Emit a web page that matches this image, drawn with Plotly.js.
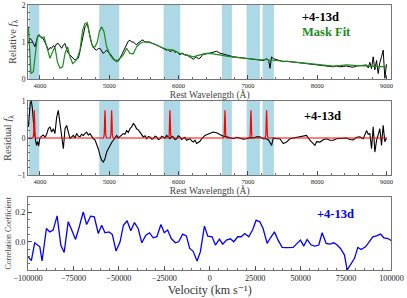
<!DOCTYPE html>
<html><head><meta charset="utf-8">
<script src="https://cdn.plot.ly/plotly-3.0.1.min.js"></script>
<style>html,body{margin:0;padding:0;background:#fff}#chart{width:407px;height:298px}</style>
</head><body><div id="chart"></div>
<script>
// Observed spectrum (relative flux)
const specWave = [3832,3856,3880,3904,3928,3952,3976,4000,4024,4048,4072,4096,4120,4144,4168,4192,4216,4240,4264,4290,4313,4337,4361,4385,4409,4433,4457,4481,4505,4529,4553,4577,4601,4625,4649,4665,4683,4700,4721,4745,4769,4793,4817,4841,4865,4890,4914,4938,4962,4986,5010,5034,5058,5082,5106,5130,5154,5178,5202,5226,5250,5274,5298,5322,5346,5370,5394,5418,5442,5466,5490,5515,5539,5563,5587,5611,5635,5660,5683,5707,5731,5755,5779,5803,5827,5851,5875,5899,5923,5947,5971,5995,6019,6043,6067,6091,6115,6140,6164,6188,6212,6236,6260,6284,6308,6332,6356,6380,6404,6452,6500,6548,6596,6644,6693,6741,6789,6837,6885,6933,6981,7029,7077,7125,7173,7221,7270,7300,7318,7342,7366,7414,7462,7510,7558,7606,7654,7702,7750,7798,7846,7894,7943,7991,8039,8087,8135,8183,8231,8279,8327,8375,8423,8471,8519,8568,8616,8664,8712,8736,8760,8784,8808,8832,8856,8880,8904,8928,8952,8976,9000];
const specFlux = [0.96,1.10,1.05,0.95,0.87,1.05,1.19,1.15,1.14,1.08,1.00,0.90,0.78,0.85,0.83,0.90,0.87,0.95,0.96,0.88,0.83,0.92,0.96,0.80,0.69,0.65,0.60,0.55,0.51,0.54,0.56,0.75,0.96,1.20,1.41,1.45,1.50,1.35,1.14,0.95,0.87,0.80,0.78,0.82,0.83,0.75,0.69,0.74,0.78,0.72,0.69,0.62,0.56,0.50,0.51,0.48,0.56,0.65,0.78,0.85,0.96,1.02,1.05,1.00,1.00,0.95,0.92,0.98,1.00,1.05,1.05,1.00,1.00,1.02,1.00,0.97,0.96,0.93,0.92,0.90,0.87,0.84,0.83,0.80,0.78,0.80,0.74,0.76,0.78,0.72,0.74,0.70,0.65,0.70,0.69,0.64,0.65,0.62,0.60,0.57,0.53,0.58,0.59,0.55,0.56,0.64,0.68,0.66,0.69,0.70,0.72,0.75,0.70,0.67,0.65,0.62,0.60,0.59,0.58,0.56,0.55,0.55,0.54,0.53,0.52,0.50,0.55,0.50,0.29,0.60,0.55,0.52,0.50,0.47,0.48,0.47,0.46,0.45,0.44,0.42,0.40,0.41,0.38,0.37,0.36,0.36,0.35,0.34,0.33,0.35,0.33,0.34,0.35,0.33,0.32,0.35,0.36,0.37,0.38,0.30,0.45,0.28,0.60,0.25,0.50,0.15,0.45,0.60,0.78,0.02,0.40];
// Mask fit (model)
const fitWave = [3832,3846,3870,3904,3928,3962,3990,4024,4058,4096,4144,4183,4216,4250,4288,4327,4361,4399,4433,4471,4505,4539,4577,4615,4649,4683,4721,4760,4793,4827,4856,4889,4923,4962,5010,5058,5106,5154,5202,5250,5298,5346,5394,5442,5490,5539,5635,5731,5827,5923,6019,6115,6212,6308,6404,6500,6596,6693,6789,6885,6981,7077,7173,7270,7366,7462,7558,7654,7750,7846,7943,8039,8135,8231,8327,8423,8519,8616,8712,8808,8904,9000];
const fitFlux = [1.41,0.80,0.15,0.20,0.60,1.14,1.19,1.10,1.14,0.87,0.56,0.74,0.87,0.47,0.29,0.33,0.69,0.87,0.60,0.42,0.47,0.56,0.78,1.32,1.50,1.52,1.14,0.87,0.87,1.00,1.28,1.41,1.28,0.87,0.65,0.53,0.47,0.56,0.65,0.83,0.69,0.68,0.87,0.96,1.00,1.00,0.96,0.87,0.80,0.78,0.69,0.65,0.60,0.65,0.69,0.68,0.66,0.62,0.59,0.57,0.55,0.53,0.52,0.52,0.51,0.50,0.49,0.46,0.44,0.42,0.40,0.38,0.37,0.35,0.36,0.38,0.37,0.36,0.35,0.34,0.33,0.33];
// Residual
const residWave = [3832,3845,3860,3875,3890,3905,3920,3935,3950,3965,3980,4000,4024,4048,4072,4096,4120,4144,4168,4192,4216,4240,4264,4288,4313,4337,4361,4385,4409,4433,4457,4481,4505,4529,4553,4577,4601,4625,4649,4673,4697,4721,4745,4769,4793,4817,4841,4865,4890,4914,4938,4962,4986,5010,5034,5058,5082,5106,5130,5154,5178,5202,5226,5250,5274,5298,5322,5346,5370,5394,5418,5442,5466,5490,5515,5539,5563,5587,5611,5635,5660,5683,5707,5731,5755,5779,5803,5827,5851,5875,5899,5923,5947,5971,5995,6019,6043,6067,6091,6115,6140,6164,6188,6212,6236,6260,6284,6308,6332,6356,6380,6404,6452,6500,6548,6596,6644,6693,6741,6789,6837,6885,6933,6981,7029,7077,7125,7173,7221,7270,7300,7342,7366,7414,7462,7510,7558,7606,7654,7702,7750,7798,7846,7894,7967,7991,8039,8087,8135,8183,8231,8279,8327,8375,8423,8471,8519,8568,8616,8664,8712,8736,8760,8784,8808,8832,8856,8904,8928,8952,8976,9000];
const residFlux = [0.30,0.75,0.95,1.00,0.80,0.45,0.10,-0.05,-0.20,-0.10,-0.22,0.00,0.05,0.08,0.02,0.10,0.25,0.30,0.16,0.25,0.12,0.55,0.75,0.43,0.03,-0.29,0.25,0.34,0.16,-0.02,0.03,0.07,0.00,0.12,0.05,0.03,0.10,0.07,0.12,0.16,0.08,0.12,0.05,-0.02,-0.05,-0.15,-0.29,-0.47,-0.60,-0.65,-0.56,-0.38,-0.28,-0.20,-0.12,-0.06,0.02,0.07,0.00,0.03,0.08,0.12,0.10,0.20,0.15,0.25,0.30,0.39,0.34,0.25,0.22,0.16,0.08,0.03,0.06,-0.02,0.04,0.03,-0.03,-0.02,0.05,0.03,-0.04,-0.02,0.05,0.03,0.00,0.07,0.02,-0.02,0.05,0.03,-0.04,-0.02,0.06,0.03,-0.04,-0.02,0.02,-0.06,-0.03,-0.02,-0.08,-0.11,-0.06,-0.15,-0.12,-0.09,-0.02,0.03,0.07,0.09,0.12,0.16,0.14,0.09,0.05,0.03,0.00,-0.02,0.02,0.00,-0.03,-0.02,0.01,0.00,0.03,0.03,-0.02,-0.02,-0.06,-0.20,0.00,-0.02,-0.02,-0.15,-0.11,-0.02,0.00,0.00,0.03,0.06,0.07,-0.06,-0.20,-0.10,-0.11,-0.05,-0.02,-0.06,-0.06,-0.02,-0.02,0.00,0.00,-0.04,-0.05,0.02,0.03,-0.02,0.20,0.10,0.12,-0.29,0.30,-0.38,-0.07,0.25,-0.20,0.34,-0.10,0.00];
// Residual line model (red)
const lineWave = [3830,3898,3908,3913,3918,3923,3928,3938,4918,4928,4933,4938,4943,4948,4958,5014,5024,5029,5034,5039,5044,5054,5855,5865,5870,5875,5880,5885,5895,6649,6659,6664,6669,6674,6679,6689,7024,7034,7039,7044,7049,7054,7064,7250,7260,7265,7270,7275,7280,7290,9005];
const lineFlux = [0,0,0.1,0.5,0.75,0.5,0.1,0,0,0.1,0.5,0.75,0.5,0.1,0,0,0.1,0.5,0.75,0.5,0.1,0,0,0.1,0.5,0.75,0.5,0.1,0,0,0.1,0.5,0.75,0.5,0.1,0,0,0.1,0.5,0.75,0.5,0.1,0,0,0.1,0.5,0.75,0.5,0.1,0,0];
// Masked regions
const maskStart = [3841,4855,5784,6625,6981,7212];
const maskEnd = [3990,5144,6024,6769,7173,7375];
// Cross-correlation
const velocity = [-100000,-98158,-96316,-94474,-93500,-92264,-89869,-88027,-86185,-83974,-81948,-80106,-77896,-76054,-73844,-71817,-69607,-67765,-65555,-63528,-61318,-59476,-57634,-55424,-53582,-51555,-49345,-47503,-45477,-43451,-41424,-39398,-37372,-35162,-33135,-31109,-29083,-26873,-25031,-23189,-21162,-18952,-17110,-14900,-12873,-11031,-9189,-6979,-5137,-2926,-1084,1285,3120,5322,7157,9175,11377,13212,15414,17249,19268,21470,23672,25507,27525,29360,31562,33397,35599,37618,39820,42022,43857,45875,48077,49912,51747,53582,55784,57803,60005,61840,64042,66060,68262,70097,71932,74134,75602,77438,79640,81474,83309,85695,87530,89732,91750,93952,95787,97989,100000];
const corrCoef = [-0.100,-0.128,-0.007,-0.022,-0.034,-0.130,0.090,0.067,0.079,0.175,-0.022,-0.072,0.135,0.083,0.016,0.100,0.202,0.117,0.173,0.169,0.056,0.112,0.061,0.067,0.049,-0.063,0.000,0.112,0.142,0.074,0.130,0.090,-0.007,0.045,0.061,0.027,0.034,0.117,0.061,0.079,0.022,-0.007,0.000,0.052,0.040,-0.045,-0.063,-0.130,-0.067,0.106,0.038,0.034,-0.022,0.018,-0.016,0.011,0.020,0.000,0.034,0.034,0.056,0.034,0.083,0.146,0.135,0.090,-0.011,0.027,0.067,0.011,-0.038,-0.040,-0.040,-0.038,-0.011,0.011,-0.029,0.016,-0.022,-0.029,-0.022,0.061,-0.011,-0.016,-0.007,-0.022,-0.045,-0.090,-0.191,-0.157,-0.112,-0.038,-0.052,-0.034,0.000,0.034,0.040,0.052,0.027,0.022,0.007];
// Tick labels / text
const wavelengthTicks = [4000,5000,6000,7000,8000,9000];
const velocityTicks = [-100000,-75000,-50000,-25000,0,25000,50000,75000,100000];
const velocityTickText = ['−100000','−75000','−50000','−25000','0','25000','50000','75000','100000'];
const phaseLabel = '+4-13d';
const fitLabel = 'Mask Fit';

const W = 407, H = 298;
const FONT = 'Liberation Serif, DejaVu Serif, serif';
const xDom = [28/W, 391.5/W];
const d1 = [1-79/H, 1-5/H];
const d2 = [1-175/H, 1-101/H];
const d3 = [1-270/H, 1-196.7/H];

const frame = {showline:true, mirror:true, linecolor:'#666', linewidth:0.9, showgrid:false, zeroline:false,
  ticks:'inside', ticklen:4, tickwidth:0.8, tickcolor:'#333'};

const traces = [
  {x:specWave, y:specFlux, xaxis:'x', yaxis:'y', mode:'lines', line:{color:'#000', width:1}, showlegend:false, hoverinfo:'skip'},
  {x:fitWave, y:fitFlux, xaxis:'x', yaxis:'y', mode:'lines', line:{color:'#1a8c1a', width:1.2}, showlegend:false, hoverinfo:'skip'},
  {x:residWave, y:residFlux, xaxis:'x2', yaxis:'y2', mode:'lines', line:{color:'#000', width:1.1}, showlegend:false, hoverinfo:'skip'},
  {x:lineWave, y:lineFlux, xaxis:'x2', yaxis:'y2', mode:'lines', line:{color:'#ff0000', width:1.2}, showlegend:false, hoverinfo:'skip'},
  {x:velocity, y:corrCoef, xaxis:'x3', yaxis:'y3', mode:'lines', line:{color:'#0000ff', width:1.3}, showlegend:false, hoverinfo:'skip'}
];

const shapes = [];
maskStart.forEach((s,i)=>{
  ['y','y2'].forEach((ya,j)=>{
    shapes.push({type:'rect', xref: j===0?'x':'x2', yref: ya+' domain', x0:s, x1:maskEnd[i], y0:0, y1:1,
      fillcolor:'#add8e6', line:{width:0}, layer:'below'});
  });
});

const wlAxis = (anchor, dom)=>Object.assign({}, frame, {domain:xDom, anchor:anchor, range:[3827,9072],
  tickmode:'array', tickvals:wavelengthTicks, tickfont:{size:6.5, family:FONT, color:'#222'},
  minor:{dtick:200, tick0:4000, ticks:'inside', ticklen:2, tickcolor:'#333', tickwidth:0.7},
  title:{text:'Rest Wavelength (Å)', font:{size:9.5, family:FONT, color:'#444'}, standoff:1}});

const annFont = (c)=>({size:12.5, family:FONT, color:c, weight:'bold'});
const fLambda = '<span style="font-style:italic;font-size:10.5px">f</span><sub><span style="font-size:7.5px">λ</span></sub>';

const layout = {
  width:W, height:H, margin:{l:0,r:0,t:0,b:0}, paper_bgcolor:'#fff', plot_bgcolor:'rgba(0,0,0,0)',
  font:{family:FONT, color:'#222', size:10},
  showlegend:false,
  xaxis: wlAxis('y', d1),
  xaxis2: wlAxis('y2', d2),
  xaxis3: Object.assign({}, frame, {domain:xDom, anchor:'y3', range:[-100000,100000],
    tickmode:'array', tickvals:velocityTicks, ticktext:velocityTickText, tickfont:{size:8.2, family:FONT, color:'#222'},
    minor:{dtick:5000, tick0:0, ticks:'inside', ticklen:2, tickcolor:'#333', tickwidth:0.7},
    title:{text:'Velocity (km s⁻¹)', font:{size:12, family:FONT, color:'#333'}, standoff:2}}),
  yaxis: Object.assign({}, frame, {domain:d1, anchor:'x', range:[0,2], tickmode:'array', tickvals:[0,1,2],
    tickfont:{size:7.5, family:FONT, color:'#222'},
    minor:{dtick:0.2, tick0:0, ticks:'inside', ticklen:2, tickcolor:'#333', tickwidth:0.7},
    title:{text:'Relative '+fLambda, font:{size:10.5, family:FONT, color:'#444'}, standoff:3}}),
  yaxis2: Object.assign({}, frame, {domain:d2, anchor:'x2', range:[-1,1], tickmode:'array', tickvals:[-1,0,1], ticktext:['−1','0','1'],
    tickfont:{size:7.5, family:FONT, color:'#222'},
    minor:{dtick:0.2, tick0:0, ticks:'inside', ticklen:2, tickcolor:'#333', tickwidth:0.7},
    title:{text:'Residual '+fLambda, font:{size:10.5, family:FONT, color:'#444'}, standoff:3}}),
  yaxis3: Object.assign({}, frame, {domain:d3, anchor:'x3', range:[-0.191,0.305], tickmode:'array', tickvals:[0,0.2], ticktext:['0.0','0.2'],
    tickfont:{size:8.2, family:FONT, color:'#222'},
    minor:{dtick:0.05, tick0:0, ticks:'inside', ticklen:2, tickcolor:'#333', tickwidth:0.7},
    title:{text:'Correlation Coefficient', font:{size:7.8, family:FONT, color:'#444'}, standoff:2}}),
  shapes: shapes,
  annotations: [
    {text:phaseLabel, xref:'paper', yref:'paper', x:300/W, y:1-16.7/H, xanchor:'left', yanchor:'middle', showarrow:false, font:annFont('#000')},
    {text:fitLabel, xref:'paper', yref:'paper', x:300/W, y:1-31.7/H, xanchor:'left', yanchor:'middle', showarrow:false, font:annFont('#1a8c1a')},
    {text:phaseLabel, xref:'paper', yref:'paper', x:302/W, y:1-115.7/H, xanchor:'left', yanchor:'middle', showarrow:false, font:annFont('#000')},
    {text:phaseLabel, xref:'paper', yref:'paper', x:315/W, y:1-214/H, xanchor:'left', yanchor:'middle', showarrow:false, font:annFont('#0000ff')}
  ]
};

Plotly.newPlot('chart', traces, layout, {staticPlot:true, displayModeBar:false});
</script>
</body></html>
